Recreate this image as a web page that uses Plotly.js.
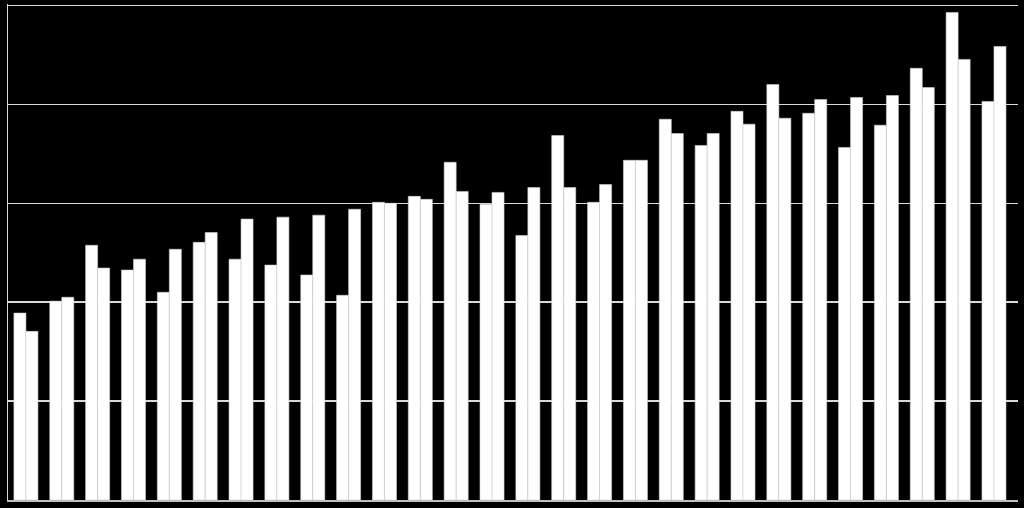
<!DOCTYPE html>
<html>
<head>
<meta charset="utf-8">
<script src="https://cdn.plot.ly/plotly-3.0.1.min.js"></script>
<style>
  html, body { margin: 0; padding: 0; background: #000; }
  #chart { width: 1024px; height: 508px; }
</style>
</head>
<body>
<div id="chart"></div>
<script>
// 28 unlabeled groups, two series each
var categories = ['1','2','3','4','5','6','7','8','9','10','11','12','13','14',
                  '15','16','17','18','19','20','21','22','23','24','25','26','27','28'];

var seriesA = [37.8, 40.2, 51.5, 46.5, 42.0, 52.1, 48.7, 47.5, 45.5, 41.4,
               60.2, 61.4, 68.3, 59.8, 53.5, 73.7, 60.2, 68.7, 77.0, 71.7,
               78.6, 84.0, 78.2, 71.3, 75.8, 87.3, 98.6, 80.6];

var seriesB = [34.1, 41.0, 46.9, 48.7, 50.7, 54.1, 56.8, 57.2, 57.6, 58.8,
               60.0, 60.8, 62.4, 62.2, 63.2, 63.2, 63.8, 68.7, 74.1, 74.1,
               76.0, 77.2, 81.0, 81.4, 81.8, 83.4, 89.1, 91.7];

var barStyle = { color: '#ffffff', line: { color: '#d0d0d0', width: 0.6 } };

var data = [
  { x: categories, y: seriesA, type: 'bar', name: 'A', marker: barStyle, hoverinfo: 'y' },
  { x: categories, y: seriesB, type: 'bar', name: 'B', marker: barStyle, hoverinfo: 'y' }
];

var layout = {
  width: 1024,
  height: 508,
  paper_bgcolor: '#000000',
  plot_bgcolor: '#000000',
  showlegend: false,
  barmode: 'group',
  bargap: 0.33,
  bargroupgap: 0,
  margin: { l: 8, r: 6, t: 4, b: 8 },
  xaxis: {
    type: 'category',
    range: [-0.5, 27.67],
    showticklabels: false,
    ticks: '',
    showgrid: false,
    zeroline: false,
    showline: true,
    linecolor: '#bfbfbf',
    linewidth: 1.5
  },
  yaxis: {
    range: [0, 100.3],
    dtick: 20,
    showticklabels: false,
    ticks: '',
    showgrid: true,
    gridcolor: '#d9d9d9',
    gridwidth: 1.5,
    zeroline: false,
    showline: true,
    linecolor: '#d9d9d9',
    linewidth: 1.5
  }
};

Plotly.newPlot('chart', data, layout, { displayModeBar: false, staticPlot: true });
</script>
</body>
</html>
